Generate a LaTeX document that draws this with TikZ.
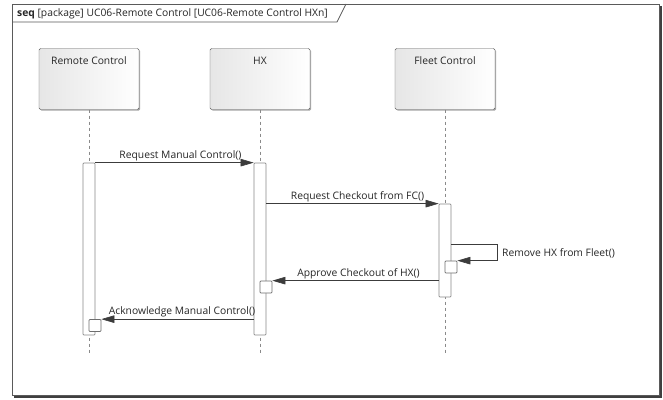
\documentclass[tikz,border=0pt]{standalone}
\usepackage{fontspec}
\setmainfont{Open Sans}
\usetikzlibrary{arrows.meta,shadows}
\definecolor{framecol}{HTML}{5A5A5A}
\definecolor{linecol}{HTML}{3C3C3C}
\definecolor{barcol}{HTML}{8A8A8A}
\definecolor{headfill}{HTML}{E6E6E6}
\tikzset{
  every node/.style={font=\fontsize{10.3}{12}\selectfont, text=black!85},
  headbox/.style={draw=framecol, rounded corners=1.5pt, minimum width=100pt, minimum height=61pt,
    left color=headfill, right color=white, inner sep=0pt,
    drop shadow={shadow xshift=1.2pt, shadow yshift=-1.2pt, opacity=0.35, fill=black}},
  headlabel/.style={anchor=north, yshift=-5pt},
  lifeline/.style={draw=barcol, dash pattern=on 3pt off 3pt, line width=0.6pt},
  actbar/.style={draw=barcol, fill=white, minimum width=12pt, inner sep=0pt, line width=0.7pt, rounded corners=0.8pt},
  selfbox/.style={draw=barcol!80!black, fill=white, minimum width=12pt, minimum height=12pt, inner sep=0pt, line width=0.7pt, rounded corners=0.8pt},
  msg/.style={draw=linecol, line width=0.6pt, -{Triangle[length=13pt,width=7.5pt]}},
  msglabel/.style={anchor=south, inner sep=1.5pt}
}
\begin{document}
\begin{tikzpicture}[x=1pt, y={(0pt,-1pt)}]
\useasboundingbox (0,0) rectangle (663,399);
\fill[white] (0,0) rectangle (663,399);

% diagram frame with its shadow edge and title tab
\draw[line width=2pt, black!75] (660.5,6) -- (660.5,396.5) -- (14,396.5);
\draw[framecol, line width=0.7pt, fill=white] (12,4) rectangle (659,395);
\draw[framecol, line width=0.7pt] (12,22) -- (337,22) -- (346,4);
\node[anchor=west, inner sep=0pt] (title) at (17,13.5) {\textbf{seq} [package] UC06-Remote Control [UC06-Remote Control HXn]};

% lifeline heads
\node[headbox] (rc) at (89,79) {};
\node[headbox] (hx) at (260,79) {};
\node[headbox] (fc) at (445,79) {};
\node[headlabel] at (rc.north) {Remote Control};
\node[headlabel] at (hx.north) {HX};
\node[headlabel] at (fc.north) {Fleet Control};

% lifelines
\coordinate (rcend) at (89,354);
\coordinate (hxend) at (260,354);
\coordinate (fcend) at (445,354);
\draw[lifeline] (rc.south) -- (rcend);
\draw[lifeline] (hx.south) -- (hxend);
\draw[lifeline] (fc.south) -- (fcend);

% activations
\node[actbar, minimum height=172pt] (rcact) at (89,249) {};
\node[actbar, minimum height=172pt] (hxact) at (260,249) {};
\node[actbar, minimum height=93pt] (fcact) at (445,250.5) {};
\node[selfbox] (fcself) at (451,267) {};
\node[selfbox] (hxself) at (266,287) {};
\node[selfbox] (rcself) at (95,325.5) {};

% messages
\draw[msg] (rcact.north east) -- node[msglabel, xshift=6pt] {Request Manual Control()} (hxact.north west);
\draw[msg] (hxact.east |- fcact.north) -- node[msglabel, xshift=5pt] {Request Checkout from FC()} (fcact.north west);
\coordinate (selfout) at (fcact.east |- 0,244);
\coordinate (selfturn) at (497,244);
\draw[msg] (selfout) -- (selfturn) -- (selfturn |- fcself.north) -- (fcself.north east);
\node[anchor=west, inner sep=0pt] (selflabel) at (502,253.5) {Remove HX from Fleet()};
\draw[msg] (fcact.west |- hxself.north) -- node[msglabel, xshift=3pt] {Approve Checkout of HX()} (hxself.north east);
\draw[msg] (hxact.west |- rcself.north) -- node[msglabel, xshift=4.5pt] {Acknowledge Manual Control()} (rcself.north east);
\end{tikzpicture}
\end{document}
